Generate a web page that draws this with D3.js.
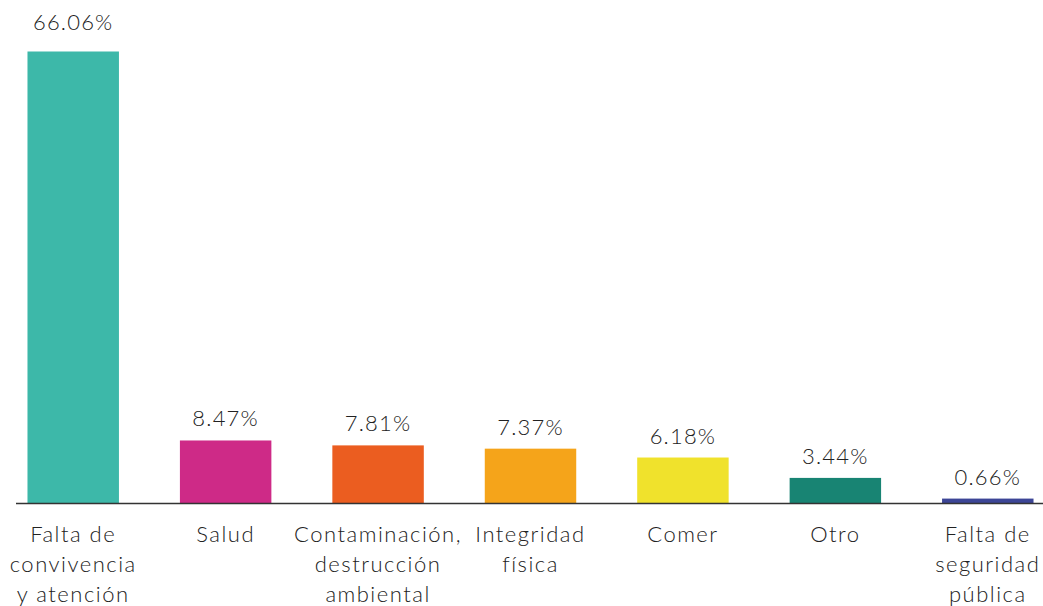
<!DOCTYPE html>
<html>
<head>
<meta charset="utf-8">
<script src="https://cdn.jsdelivr.net/npm/d3@7"></script>
<style>
  body { margin: 0; background: #fff; }
  svg text { font-family: "Lato", "Open Sans", sans-serif; font-weight: 300; fill: #222; }
</style>
</head>
<body>
<div id="chart"></div>
<script>
// categories (each label split in lines) and values, in %
var categories = [
  ["Falta de", "convivencia", "y atención"],
  ["Salud"],
  ["Contaminación,", "destrucción", "ambiental"],
  ["Integridad", "física"],
  ["Comer"],
  ["Otro"],
  ["Falta de", "seguridad", "pública"]
];
var values = [66.06, 8.47, 7.81, 7.37, 6.18, 3.44, 0.66];
var colors = ["#3DB8A9", "#CE2A87", "#EB5D20", "#F5A41A", "#F0E22C", "#188473", "#3C4596"];

var width = 1043,
    height = 606,
    baseY = 503.5;

var svg = d3.select("#chart")
    .append("svg")
    .attr("width", width)
    .attr("height", height);

var idx = d3.range(values.length);

var x = d3.scaleBand()
    .domain(idx)
    .range([-3, 1064])
    .paddingInner(0.4)
    .paddingOuter(0.2);

// the first bar is cut short in the original, so the scale is clamped
var y = d3.scaleLinear()
    .domain([0, 60.75])
    .range([baseY, 51.5])
    .clamp(true);

svg.append("g")
    .selectAll("rect")
    .data(idx)
    .enter()
    .append("rect")
    .attr("x", i => x(i))
    .attr("y", i => y(values[i]))
    .attr("width", x.bandwidth())
    .attr("height", i => baseY - y(values[i]))
    .style("fill", i => colors[i]);

// baseline
svg.append("line")
    .attr("x1", 16)
    .attr("x2", width)
    .attr("y1", baseY)
    .attr("y2", baseY)
    .style("stroke", "#333")
    .style("stroke-width", 1.5);

// value labels
svg.append("g")
    .selectAll("text")
    .data(idx)
    .enter()
    .append("text")
    .attr("x", i => x(i) + x.bandwidth() / 2)
    .attr("y", i => i == 0 ? 30 : y(values[i]) - 14)
    .attr("text-anchor", "middle")
    .attr("font-size", "22px")
    .attr("letter-spacing", "1.2px")
    .text(i => values[i].toFixed(2) + "%");

// category labels
var cat = svg.append("g")
    .selectAll("text")
    .data(idx)
    .enter()
    .append("text")
    .attr("x", i => x(i) + x.bandwidth() / 2)
    .attr("y", 542)
    .attr("text-anchor", "middle")
    .attr("font-size", "22px")
    .attr("letter-spacing", "1.5px");

cat.selectAll("tspan")
    .data(i => categories[i].map(t => ({ t: t, cx: x(i) + x.bandwidth() / 2 })))
    .enter()
    .append("tspan")
    .attr("x", d => d.cx)
    .attr("dy", (d, j) => j == 0 ? 0 : 30)
    .text(d => d.t);
</script>
</body>
</html>
